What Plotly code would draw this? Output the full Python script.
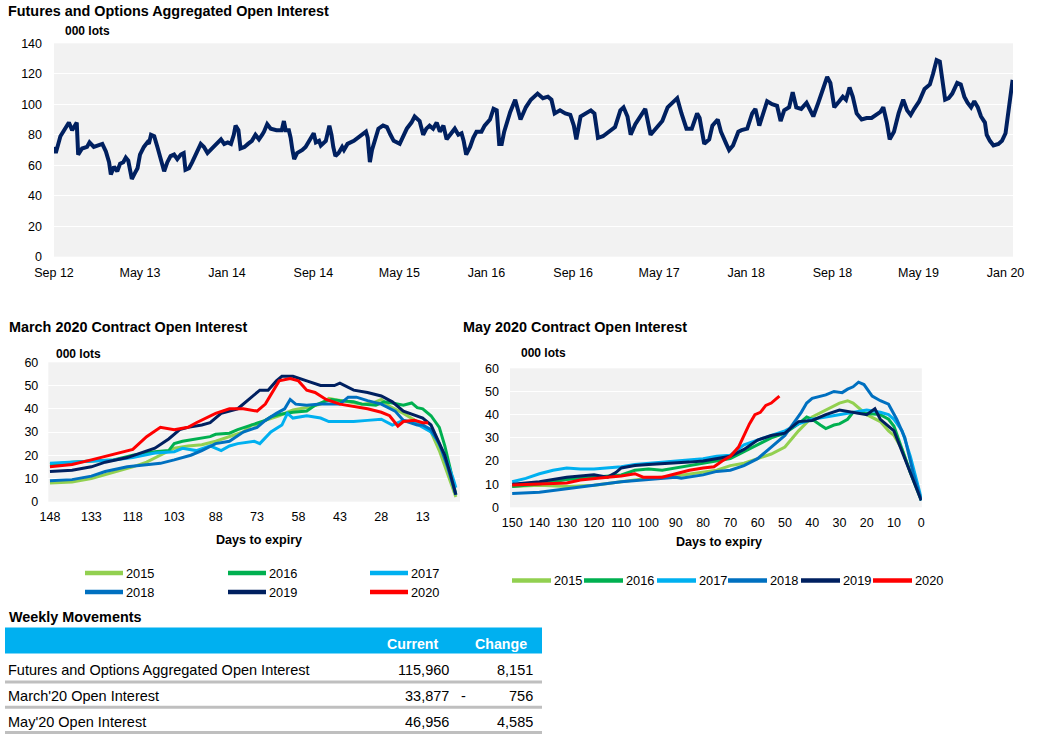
import plotly.graph_objects as go

W, H = 1037, 755
FONT = "Liberation Sans, Arial, sans-serif"

# ---------------- data: aggregated open interest (000 lots) ----------------
top_dates = [
    "2012-09-01", "2012-09-06", "2012-09-19", "2012-10-03", "2012-10-13", "2012-10-22", "2012-11-04", "2012-11-08",
    "2012-11-19", "2012-12-03", "2012-12-10", "2012-12-22", "2013-01-06", "2013-01-15", "2013-01-25", "2013-02-03",
    "2013-02-08", "2013-02-17", "2013-02-26", "2013-03-06", "2013-03-15", "2013-03-22", "2013-03-29", "2013-04-04",
    "2013-04-08", "2013-04-17", "2013-04-24", "2013-05-01", "2013-05-12", "2013-05-22", "2013-05-26", "2013-06-01",
    "2013-06-10", "2013-06-19", "2013-06-28", "2013-07-08", "2013-07-17", "2013-07-26", "2013-08-05", "2013-08-14",
    "2013-08-24", "2013-09-01", "2013-09-06", "2013-09-16", "2013-09-25", "2013-10-04", "2013-10-10", "2013-10-19",
    "2013-10-28", "2013-11-07", "2013-11-24", "2013-12-08", "2013-12-15", "2013-12-24", "2014-01-03", "2014-01-12",
    "2014-01-20", "2014-01-25", "2014-02-02", "2014-02-08", "2014-02-19", "2014-03-01", "2014-03-12", "2014-03-22",
    "2014-04-01", "2014-04-10", "2014-04-15", "2014-04-24", "2014-05-04", "2014-05-20", "2014-06-04", "2014-06-10",
    "2014-06-15", "2014-06-24", "2014-06-29", "2014-07-04", "2014-07-09", "2014-07-17", "2014-08-01", "2014-08-10",
    "2014-08-15", "2014-08-24", "2014-09-02", "2014-09-08", "2014-09-17", "2014-09-22", "2014-10-06", "2014-10-16",
    "2014-10-22", "2014-10-27", "2014-11-02", "2014-11-11", "2014-11-21", "2014-11-26", "2014-12-06", "2014-12-24",
    "2015-01-04", "2015-01-18", "2015-01-27", "2015-02-01", "2015-02-07", "2015-02-13", "2015-02-22", "2015-03-03",
    "2015-03-16", "2015-03-27", "2015-04-06", "2015-04-15", "2015-05-02", "2015-05-11", "2015-05-22", "2015-06-04",
    "2015-06-13", "2015-06-27", "2015-07-07", "2015-07-16", "2015-07-25", "2015-08-04", "2015-08-14", "2015-08-23",
    "2015-09-02", "2015-09-11", "2015-09-20", "2015-10-04", "2015-10-14", "2015-10-23", "2015-10-29", "2015-11-05",
    "2015-11-16", "2015-11-25", "2015-12-04", "2015-12-18", "2015-12-27", "2016-01-11", "2016-01-21", "2016-01-30",
    "2016-02-06", "2016-02-13", "2016-02-20", "2016-03-08", "2016-03-22", "2016-04-06", "2016-04-21", "2016-05-05",
    "2016-05-24", "2016-06-08", "2016-06-22", "2016-07-02", "2016-07-11", "2016-07-26", "2016-08-10", "2016-08-24",
    "2016-09-03", "2016-09-10", "2016-09-22", "2016-10-07", "2016-10-21", "2016-10-31", "2016-11-10", "2016-11-24",
    "2016-12-13", "2016-12-28", "2017-01-12", "2017-01-21", "2017-02-01", "2017-02-10", "2017-02-23", "2017-03-09",
    "2017-03-23", "2017-04-07", "2017-04-21", "2017-05-10", "2017-05-25", "2017-06-09", "2017-06-21", "2017-07-03",
    "2017-07-17", "2017-08-01", "2017-08-16", "2017-08-23", "2017-09-05", "2017-09-19", "2017-09-28", "2017-10-13",
    "2017-10-22", "2017-11-06", "2017-11-14", "2017-11-25", "2017-12-10", "2017-12-19", "2018-01-04", "2018-01-18",
    "2018-01-27", "2018-02-07", "2018-02-20", "2018-03-01", "2018-03-15", "2018-03-29", "2018-04-08", "2018-04-18",
    "2018-05-02", "2018-05-12", "2018-05-22", "2018-06-05", "2018-06-20", "2018-06-29", "2018-07-09", "2018-07-23",
    "2018-08-07", "2018-08-17", "2018-08-26", "2018-09-06", "2018-09-20", "2018-09-30", "2018-10-09", "2018-10-19",
    "2018-10-28", "2018-11-08", "2018-11-22", "2018-12-06", "2018-12-20", "2019-01-05", "2019-01-14", "2019-01-22",
    "2019-02-01", "2019-02-09", "2019-02-21", "2019-03-06", "2019-03-19", "2019-03-30", "2019-04-09", "2019-04-19",
    "2019-05-03", "2019-05-18", "2019-06-02", "2019-06-11", "2019-06-21", "2019-06-30", "2019-07-07", "2019-07-15",
    "2019-07-25", "2019-08-04", "2019-08-18", "2019-08-28", "2019-09-07", "2019-09-16", "2019-09-26", "2019-10-05",
    "2019-10-15", "2019-10-24", "2019-11-04", "2019-11-09", "2019-11-18", "2019-11-28", "2019-12-12", "2019-12-22",
    "2020-01-01", "2020-01-10", "2020-01-15", "2020-01-21",
]
top_values = [
    72, 68, 79, 85, 88, 83, 88, 67,
    71, 72, 75, 72, 73, 74, 69, 62,
    54, 59, 56, 61, 62, 65, 63, 57,
    51, 55, 58, 67, 72, 75, 74, 80,
    79, 72, 65, 56, 62, 66, 67, 64,
    67, 68, 57, 58, 62, 66, 70, 74,
    72, 68, 72, 75, 77, 74, 75, 74,
    80, 86, 83, 71, 72, 74, 76, 80,
    77, 80, 82, 87, 84, 83, 83, 89,
    83, 83, 78, 70, 64, 68, 70, 72,
    74, 78, 81, 75, 76, 73, 76, 86,
    80, 72, 66, 68, 72, 70, 74, 76,
    78, 80, 82, 78, 62, 70, 78, 84,
    86, 85, 80, 76, 74, 78, 84, 88,
    92, 89, 80, 84, 86, 84, 88, 82,
    86, 77, 80, 84, 80, 81, 76, 67,
    72, 78, 82, 82, 86, 90, 97, 96,
    74, 74, 82, 95, 103, 90, 98, 103,
    107, 104, 105, 103, 94, 96, 94, 93,
    86, 77, 92, 94, 96, 94, 78, 79,
    82, 85, 96, 98, 92, 80, 87, 92,
    97, 80, 84, 89, 98, 101, 104, 94,
    84, 84, 94, 91, 74, 77, 86, 90,
    82, 74, 70, 73, 82, 83, 84, 94,
    97, 86, 96, 102, 100, 99, 89, 96,
    98, 108, 98, 97, 101, 96, 92, 101,
    111, 118, 114, 98, 102, 105, 103, 111,
    105, 94, 90, 91, 91, 94, 95, 98,
    88, 77, 82, 94, 103, 96, 93, 97,
    102, 110, 113, 120, 129, 128, 118, 103,
    104, 107, 114, 113, 105, 101, 98, 102,
    98, 92, 88, 80, 76, 73, 74, 76,
    81, 98, 107, 116,
]
top_tickvals = ["2012-09-01", "2013-05-01", "2014-01-01", "2014-09-01", "2015-05-01", "2016-01-01",
                "2016-09-01", "2017-05-01", "2018-01-01", "2018-09-01", "2019-05-01", "2020-01-01"]
top_ticktext = ["Sep 12", "May 13", "Jan 14", "Sep 14", "May 15", "Jan 16",
                "Sep 16", "May 17", "Jan 18", "Sep 18", "May 19", "Jan 20"]

# ---------------- data: contract open interest by days to expiry ----------------
years = ["2015", "2016", "2017", "2018", "2019", "2020"]
colors = ["#92D050", "#00B050", "#00B0F0", "#0070C0", "#002060", "#FF0000"]

mar_days = {
    "2015": [148, 140, 133, 125, 118, 113, 108, 103, 98, 93, 88, 83, 78, 75, 73, 70, 65, 60, 55, 50, 47, 45, 43, 40, 35, 31, 28, 25, 20, 16, 13, 10, 7, 4, 1],
    "2016": [148, 140, 133, 125, 118, 110, 105, 103, 100, 95, 90, 88, 83, 80, 75, 70, 68, 65, 60, 55, 52, 49, 46, 43, 38, 35, 30, 27, 24, 20, 17, 15, 13, 10, 7, 5, 3, 1],
    "2017": [148, 140, 133, 125, 118, 110, 103, 100, 95, 90, 86, 83, 80, 74, 72, 68, 64, 62, 60, 55, 50, 47, 43, 38, 33, 28, 24, 20, 16, 13, 10, 8, 5, 2, 1],
    "2018": [148, 140, 133, 128, 120, 113, 108, 103, 97, 93, 88, 83, 78, 73, 70, 66, 63, 61, 59, 55, 50, 45, 43, 40, 37, 33, 28, 23, 20, 15, 13, 10, 7, 4, 1],
    "2019": [148, 140, 133, 128, 120, 115, 110, 105, 101, 98, 93, 90, 86, 80, 76, 72, 69, 66, 64, 60, 55, 50, 45, 43, 38, 33, 28, 24, 20, 15, 13, 10, 8, 5, 3, 1],
    "2020": [148, 140, 133, 125, 118, 113, 108, 103, 98, 95, 88, 83, 78, 73, 70, 65, 61, 58, 55, 52, 48, 43, 38, 33, 28, 25, 22, 20, 16, 13, 11],
}
mar_values = {
    "2015": [8, 8.5, 10, 12.5, 15, 17, 20, 23, 24, 24.5, 26, 28, 30, 33, 33, 35, 37, 39.5, 40.5, 42, 44.5, 44, 43.5, 43, 42, 42.5, 44, 41, 38, 35, 33, 30, 22, 12, 2],
    "2016": [16, 17, 17.5, 18, 20, 21.5, 22, 25, 26, 27, 28, 29, 29.5, 31, 33, 35, 36.5, 37.5, 38.5, 39, 41.5, 43, 44, 43.5, 43, 42, 41.5, 43, 42.5, 41.5, 42.5, 40.5, 40, 37, 32, 24, 14, 3],
    "2017": [16.5, 17, 17.5, 18, 19, 21, 21.5, 23, 22, 24, 22, 24, 25, 26, 25, 30, 33, 38, 36, 37, 36, 34.5, 34.5, 34.5, 35, 35.5, 33, 35, 34, 32, 30, 27, 20, 10, 6],
    "2018": [9, 9.5, 11, 13, 15, 16, 16.5, 18, 20, 22, 25, 26, 30, 32, 35, 38, 40, 44, 42, 41.5, 42, 42, 42, 45, 45, 43.5, 42, 39, 35, 33, 33, 31, 25, 15, 3],
    "2019": [13, 13.5, 15, 17, 19, 21, 23, 27, 31, 32, 33, 34, 38, 40, 44, 48, 48, 52, 54, 54, 52, 50, 50, 51, 48, 47, 45.5, 43, 39, 37, 36, 33, 28, 20, 12, 3],
    "2020": [15, 16, 18, 20.5, 22.5, 28, 32, 31, 32, 34, 38, 40, 40, 39, 42, 52, 53, 52, 48, 47, 44, 42, 41, 40, 38.5, 37, 32.5, 34.5, 35, 34, 34],
}

may_days = {
    "2015": [150, 140, 130, 120, 110, 100, 90, 80, 75, 70, 65, 60, 55, 50, 47, 45, 40, 35, 30, 27, 25, 20, 15, 12, 10, 7, 4, 0],
    "2016": [150, 140, 130, 120, 115, 110, 105, 100, 95, 90, 85, 80, 75, 70, 65, 60, 55, 50, 45, 42, 40, 37, 35, 32, 30, 27, 25, 20, 15, 12, 10, 7, 4, 0],
    "2017": [150, 145, 140, 135, 130, 125, 120, 110, 105, 100, 90, 80, 75, 70, 65, 60, 55, 50, 45, 40, 35, 30, 25, 20, 15, 12, 10, 7, 4, 0],
    "2018": [150, 140, 130, 120, 110, 100, 90, 88, 80, 75, 70, 65, 60, 55, 50, 47, 44, 42, 40, 35, 32, 29, 27, 25, 23, 21, 18, 15, 12, 9, 6, 3, 0],
    "2019": [150, 140, 130, 120, 115, 112, 110, 105, 100, 90, 85, 80, 75, 70, 65, 60, 55, 50, 47, 45, 40, 35, 30, 25, 20, 17, 15, 10, 5, 0],
    "2020": [150, 140, 130, 125, 120, 115, 110, 105, 102, 95, 90, 85, 80, 76, 73, 70, 67, 65, 63, 61, 59, 57, 55, 53, 52],
}
may_values = {
    "2015": [9, 9.5, 9, 9.5, 11, 12.5, 13.5, 15, 16, 18, 19, 21, 23, 26, 30, 33, 39, 42, 45, 46, 45, 40, 37, 33, 31, 25, 15, 4],
    "2016": [9, 10, 12, 13, 13.5, 14, 16, 16.5, 16, 17, 18, 19, 20, 21, 24, 27, 30, 32, 36, 39, 38, 35.5, 34, 35.5, 36, 38, 41, 40.5, 40, 38, 35, 25, 15, 3],
    "2017": [11, 12.5, 14.5, 16, 17, 16.5, 16.5, 17.5, 18.5, 19, 20, 21, 22, 22.5, 27, 29, 31, 33, 36, 38, 39, 40, 41, 42, 41, 40, 38, 33, 22, 4],
    "2018": [6, 6.5, 8, 9.5, 11, 12, 13, 12.5, 14, 15.5, 16, 18, 21, 26, 31, 36, 41, 45, 47, 48.5, 50, 49.5, 51, 52, 54, 53, 48, 46, 44.5, 38, 30, 15, 3],
    "2019": [10, 11, 13, 14, 13, 15, 17, 18, 18.5, 19, 19.5, 20, 21, 22, 25, 29, 31, 32, 35, 37, 37.5, 40, 42, 41, 40, 42.5, 38, 33, 18, 3],
    "2020": [9.6, 10, 10.5, 11.8, 12.5, 13, 13.5, 14.5, 13, 13, 14.5, 16, 17, 17.5, 20, 22, 26, 31, 36, 40, 41, 44, 45, 47, 48],
}
mar_tickvals = [148, 133, 118, 103, 88, 73, 58, 43, 28, 13]
may_tickvals = [150, 140, 130, 120, 110, 100, 90, 80, 70, 60, 50, 40, 30, 20, 10, 0]

# ---------------- data: weekly movements table ----------------
table_labels = ["Futures and Options Aggregated Open Interest", "March'20 Open Interest", "May'20 Open Interest"]
table_current = [115960, 33877, 46956]
table_change = [8151, -756, 4585]
table_header = ["Current", "Change"]

# ---------------- figure ----------------
fig = go.Figure()
fig.add_trace(go.Scatter(x=top_dates, y=top_values, mode="lines",
                         line=dict(color="#002060", width=4), xaxis="x", yaxis="y",
                         showlegend=False, hoverinfo="skip"))
for yr, col in zip(years, colors):
    fig.add_trace(go.Scatter(x=mar_days[yr], y=mar_values[yr], mode="lines", name=yr,
                             line=dict(color=col, width=3), xaxis="x2", yaxis="y2",
                             showlegend=False, hoverinfo="skip"))
for yr, col in zip(years, colors):
    fig.add_trace(go.Scatter(x=may_days[yr], y=may_values[yr], mode="lines", name=yr,
                             line=dict(color=col, width=3), xaxis="x3", yaxis="y3",
                             showlegend=False, hoverinfo="skip"))


def X(p):
    return p / W


def Y(p):
    return 1 - p / H


tickfont = dict(family=FONT, size=12.5, color="#000000")
common_x = dict(showgrid=False, zeroline=False, showline=False, ticks="", tickfont=tickfont,
                fixedrange=True, automargin=False)
common_y = dict(showgrid=True, gridcolor="#FFFFFF", gridwidth=1, zeroline=False, showline=False,
                ticks="", tickfont=tickfont, fixedrange=True, automargin=False)

annotations = []
shapes = []


def text(s, x, y, size=12.5, bold=False, xanchor="left", color="#000000"):
    annotations.append(dict(text=f"<b>{s}</b>" if bold else s, x=X(x), y=Y(y), xref="paper", yref="paper",
                            xanchor=xanchor, yanchor="middle", showarrow=False,
                            font=dict(family=FONT, size=size, color=color)))


def hline(x0, x1, y, color, width):
    shapes.append(dict(type="line", xref="paper", yref="paper", x0=X(x0), x1=X(x1), y0=Y(y), y1=Y(y),
                       line=dict(color=color, width=width)))


# titles
text("Futures and Options Aggregated Open Interest", 6, 11, size=14.4, bold=True)
text("000 lots", 63, 30.5, size=12, bold=True)
text("March 2020 Contract Open Interest", 7, 327, size=14.4, bold=True)
text("000 lots", 54, 354, size=12, bold=True)
text("May 2020 Contract Open Interest", 461, 327, size=14.4, bold=True)
text("000 lots", 519, 353, size=12, bold=True)
text("Days to expiry", 259, 539.5, size=12.6, bold=True, xanchor="center")
text("Days to expiry", 719, 541.5, size=12.6, bold=True, xanchor="center")

# legend (March chart: 3 columns x 2 rows)
mar_leg = [(85, 573), (228, 573), (370, 573), (85, 592), (228, 592), (370, 592)]
for (lx, ly), yr, col in zip(mar_leg, years, colors):
    hline(lx, lx + 38, ly, col, 4.5)
    text(yr, lx + 39, ly, size=12.8)
# legend (May chart: one row)
may_leg = [512, 584, 657, 728, 801, 873]
for lx, yr, col in zip(may_leg, years, colors):
    hline(lx, lx + 39, 580.5, col, 4.5)
    text(yr, lx + 40, 580.5, size=12.8)

# table
text("Weekly Movements", 7, 617, size=14.4, bold=True)
shapes.append(dict(type="rect", xref="paper", yref="paper", x0=X(5), x1=X(542), y0=Y(653.5), y1=Y(627.5),
                   fillcolor="#00B0F0", line=dict(width=0), layer="below"))
text(table_header[0], 412.5, 643.5, size=14.2, bold=True, xanchor="center", color="#FFFFFF")
text(table_header[1], 501, 643.5, size=14.2, bold=True, xanchor="center", color="#FFFFFF")
row_y = [670, 695.7, 721.7]
sep_y = [682, 707.2, 732.5]
for lab, cur, chg, ry, sy in zip(table_labels, table_current, table_change, row_y, sep_y):
    text(lab, 6, ry, size=14.5)
    text(f"{cur:,}", 450.5, ry, size=14.5, xanchor="right")
    if chg < 0:
        text("-", 463, ry, size=14.5, xanchor="center")
    text(f"{abs(chg):,}", 535, ry, size=14.5, xanchor="right")
    hline(5, 542, sy, "#BFBFBF", 3)

fig.update_layout(
    template="none",
    width=W, height=H, autosize=False,
    margin=dict(l=0, r=0, t=0, b=0, pad=0, autoexpand=False),
    paper_bgcolor="#FFFFFF", plot_bgcolor="#F2F2F2",
    font=dict(family=FONT, size=12.5, color="#000000"),
    showlegend=False,
    xaxis=dict(domain=[X(54), X(1013)], anchor="y", type="date", range=["2012-09-01", "2020-01-22"],
               tickvals=top_tickvals, ticktext=top_ticktext, ticklabelstandoff=7, **common_x),
    yaxis=dict(domain=[Y(256.7), Y(43.3)], anchor="x", range=[0, 140], dtick=20,
               ticklabelstandoff=11, **common_y),
    xaxis2=dict(domain=[X(48.3), X(460)], anchor="y2", range=[148.6, -0.5],
                tickvals=mar_tickvals, ticklabelstandoff=6, **common_x),
    yaxis2=dict(domain=[Y(501.7), Y(362.3)], anchor="x2", range=[0, 60], dtick=10,
                ticklabelstandoff=9, **common_y),
    xaxis3=dict(domain=[X(510), X(921.8)], anchor="y3", range=[150.8, -0.2],
                tickvals=may_tickvals, ticklabelstandoff=6, **common_x),
    yaxis3=dict(domain=[Y(507.3), Y(368.3)], anchor="x3", range=[0, 60], dtick=10,
                ticklabelstandoff=10, **common_y),
    annotations=annotations,
    shapes=shapes,
)

fig.write_html("out.html")
